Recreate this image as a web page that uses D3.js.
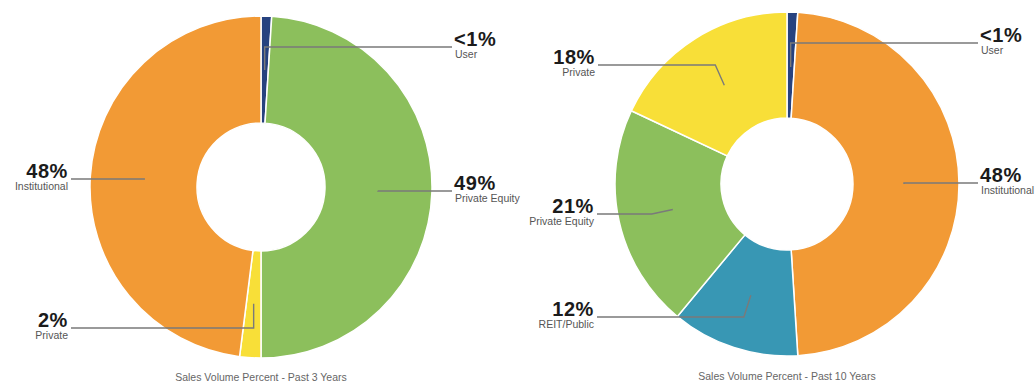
<!DOCTYPE html>
<html>
<head>
<meta charset="utf-8">
<script src="https://cdn.jsdelivr.net/npm/d3@7/dist/d3.min.js"></script>
<style>
  html, body { margin: 0; padding: 0; background: #fff; }
  svg { display: block; }
  text { font-family: "Liberation Sans", Arial, Helvetica, sans-serif; }
</style>
</head>
<body>
<svg id="chart" width="1036" height="383"></svg>
<script>
// Buyer composition, share of sales volume (percent)
const categories3 = ["User", "Private Equity", "Private", "Institutional"];
const values3 = [1, 49, 2, 48];
const shown3 = ["<1%", "49%", "2%", "48%"];

const categories10 = ["User", "Institutional", "REIT/Public", "Private Equity", "Private"];
const values10 = [1, 48, 12, 21, 18];
const shown10 = ["<1%", "48%", "12%", "21%", "18%"];

const captions = ["Sales Volume Percent - Past 3 Years", "Sales Volume Percent - Past 10 Years"];

const colour = d3.scaleOrdinal()
  .domain(["User", "Private Equity", "Private", "Institutional", "REIT/Public"])
  .range(["#27427f", "#8cbf5c", "#f8df38", "#f29a35", "#3897b4"]);

const svg = d3.select("#chart");

// Label placement for each donut: side of the chart, y of the leader line,
// x where the leader meets the text, and horizontal offset of the elbow.
const charts = [
  {
    cats: categories3, vals: values3, shown: shown3, caption: captions[0],
    cx: 261, cy: 187, r0: 64, r1: 171, captionY: 380.5,
    place: {
      "User":           { side: "right", y: 47,  x: 452, elbow: 0 },
      "Private Equity": { side: "right", y: 191, x: 452, elbow: 0 },
      "Private":        { side: "left",  y: 328, x: 71,  elbow: 0 },
      "Institutional":  { side: "left",  y: 179, x: 71,  elbow: 0 }
    }
  },
  {
    cats: categories10, vals: values10, shown: shown10, caption: captions[1],
    cx: 787, cy: 184, r0: 66, r1: 172, captionY: 380,
    place: {
      "User":           { side: "right", y: 43,  x: 978, elbow: 0 },
      "Institutional":  { side: "right", y: 183, x: 978, elbow: 0 },
      "REIT/Public":    { side: "left",  y: 317, x: 597, elbow: -7 },
      "Private Equity": { side: "left",  y: 214, x: 597, elbow: -21 },
      "Private":        { side: "left",  y: 65,  x: 598, elbow: -9 }
    }
  }
];

charts.forEach(c => {
  const data = c.cats.map((k, i) => ({ key: k, value: c.vals[i], shown: c.shown[i] }));
  const pie = d3.pie().sort(null).value(d => d.value).startAngle(0).endAngle(2 * Math.PI);
  const arcs = pie(data);
  const arc = d3.arc().innerRadius(c.r0).outerRadius(c.r1);
  const mid = d3.arc().innerRadius(117).outerRadius(117);

  const g = svg.append("g").attr("transform", `translate(${c.cx},${c.cy})`);

  g.selectAll("path.slice")
    .data(arcs)
    .join("path")
    .attr("class", "slice")
    .attr("d", arc)
    .attr("fill", d => colour(d.data.key))
    .attr("stroke", "#fff")
    .attr("stroke-width", 1.5);

  // leader lines
  const line = d3.line();
  g.selectAll("path.leader")
    .data(arcs)
    .join("path")
    .attr("class", "leader")
    .attr("fill", "none")
    .attr("stroke", "#7a7a7a")
    .attr("stroke-width", 1.4)
    .attr("d", d => {
      const p = c.place[d.data.key];
      const [ax, ay] = mid.centroid(d);
      const ly = p.y - c.cy, lx = p.x - c.cx;
      return line([[ax, ay], [ax + p.elbow, ly], [lx, ly]]);
    });

  // value and category labels
  const lab = svg.append("g");
  arcs.forEach(d => {
    const p = c.place[d.data.key];
    const right = p.side === "right";
    const tx = right ? p.x + 2 : p.x - 3;
    const anchor = right ? "start" : "end";
    lab.append("text")
      .attr("x", tx).attr("y", p.y - 1)
      .attr("text-anchor", anchor)
      .attr("font-size", 20).attr("font-weight", "bold")
      .attr("letter-spacing", 0.6)
      .attr("fill", "#1b1b1b")
      .text(d.data.shown);
    lab.append("text")
      .attr("x", right ? tx + 1 : tx).attr("y", p.y + 11)
      .attr("text-anchor", anchor)
      .attr("font-size", 10.5)
      .attr("fill", "#555")
      .text(d.data.key);
  });

  svg.append("text")
    .attr("x", c.cx).attr("y", c.captionY)
    .attr("text-anchor", "middle")
    .attr("font-size", 10.5)
    .attr("fill", "#666")
    .text(c.caption);
});
</script>
</body>
</html>
